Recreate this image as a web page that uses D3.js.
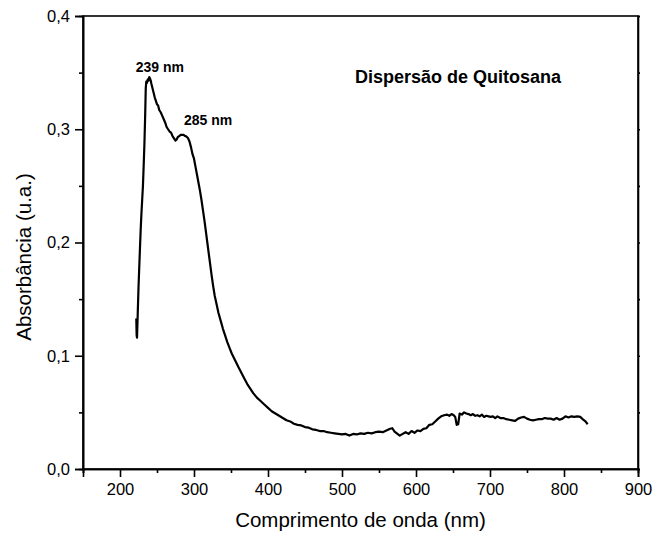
<!DOCTYPE html>
<html>
<head>
<meta charset="utf-8">
<script src="https://cdn.jsdelivr.net/npm/d3@7"></script>
<style>
  html, body { margin: 0; padding: 0; background: #fff; }
  svg { display: block; font-family: "Liberation Sans", Arial, sans-serif; }
</style>
</head>
<body>
<svg id="chart" width="652" height="536"></svg>
<script>
// ---- data ----
const wavelength = [
  222, 222.5, 223, 224, 225, 226, 227, 228, 229, 230, 231, 232, 233, 234, 234.8, 235.5, 236.5, 237.5, 238.5, 239.5,
  240.5, 241.5, 242.5, 244, 245.5, 247, 248.5, 250, 251.5, 253, 255, 257, 259, 261, 263, 265, 267, 269, 271, 273,
  275, 276.5, 278, 280, 282, 284, 286, 288, 290, 292, 294, 296, 298, 300, 302, 304, 306, 308, 310, 312,
  314, 316, 318, 320, 322, 324, 326, 328, 330, 333, 336, 339, 342, 345, 348, 351, 354, 357, 360, 364,
  368, 372, 376, 380, 385, 390, 395, 400, 405, 410, 415, 420, 425, 430, 435, 440, 445, 450, 455, 460,
  465, 470, 475, 480, 485, 490, 495, 500, 505, 510, 515, 520, 525, 530, 535, 540, 545, 550, 555, 560,
  565, 568, 571, 575, 578, 582, 586, 590, 594, 598, 602, 606, 610, 614, 618, 622, 626, 630, 634, 638,
  642, 645, 648, 651, 653, 655, 657, 659, 662, 665, 668, 671, 674, 677, 680, 683, 686, 689, 692, 695,
  698, 701, 704, 707, 710, 714, 718, 722, 726, 730, 734, 738, 742, 746, 750, 754, 758, 762, 766, 770,
  774, 778, 782, 786, 790, 794, 798, 802, 806, 810, 814, 818, 822, 826, 829, 832
];
const absorbance = [
  0.133, 0.118, 0.116, 0.138, 0.160, 0.178, 0.195, 0.212, 0.226, 0.238, 0.250, 0.268, 0.287, 0.312, 0.336, 0.342, 0.341, 0.344, 0.343, 0.346,
  0.345, 0.343, 0.340, 0.336, 0.332, 0.328, 0.325, 0.322, 0.321, 0.317, 0.315, 0.312, 0.309, 0.306, 0.302, 0.300, 0.298, 0.297, 0.294, 0.292,
  0.290, 0.291, 0.293, 0.294, 0.295, 0.295, 0.295, 0.294, 0.2935, 0.292, 0.289, 0.284, 0.278, 0.274, 0.267, 0.260, 0.253, 0.246, 0.238, 0.229,
  0.220, 0.210, 0.200, 0.190, 0.180, 0.170, 0.161, 0.153, 0.147, 0.138, 0.131, 0.124, 0.118, 0.112, 0.107, 0.102, 0.098, 0.094, 0.090, 0.085,
  0.080, 0.075, 0.071, 0.067, 0.063, 0.060, 0.057, 0.054, 0.051, 0.049, 0.047, 0.045, 0.043, 0.042, 0.040, 0.039, 0.0385, 0.037, 0.0365, 0.035,
  0.0345, 0.0335, 0.0335, 0.0325, 0.032, 0.0315, 0.031, 0.0305, 0.031, 0.0295, 0.031, 0.0305, 0.0315, 0.031, 0.032, 0.0315, 0.0325, 0.033, 0.0325, 0.034,
  0.0355, 0.036, 0.033, 0.031, 0.0295, 0.031, 0.0325, 0.031, 0.0335, 0.032, 0.034, 0.0335, 0.0355, 0.036, 0.039, 0.0395, 0.042, 0.0445, 0.0465, 0.0475,
  0.048, 0.047, 0.0485, 0.0475, 0.046, 0.039, 0.0395, 0.049, 0.048, 0.050, 0.049, 0.0485, 0.0475, 0.0485, 0.047, 0.0475, 0.0465, 0.048, 0.046, 0.047,
  0.0465, 0.046, 0.0465, 0.045, 0.0465, 0.045, 0.045, 0.044, 0.0435, 0.043, 0.0425, 0.0445, 0.0455, 0.046, 0.0445, 0.0435, 0.043, 0.0435, 0.044, 0.044,
  0.045, 0.0445, 0.0445, 0.0435, 0.045, 0.0435, 0.0445, 0.0465, 0.0455, 0.0465, 0.046, 0.0465, 0.046, 0.0435, 0.042, 0.0395
];
const xTicks = [200, 300, 400, 500, 600, 700, 800, 900];
const xMinorTicks = [150, 250, 350, 450, 550, 650, 750, 850];
const yTicks = [0.0, 0.1, 0.2, 0.3, 0.4];
const yMinorTicks = [0.05, 0.15, 0.25, 0.35];
const peakLabels = [
  { text: "239 nm", wl: 239, ab: 0.346 },
  { text: "285 nm", wl: 285, ab: 0.295 }
];
const title = "Dispersão de Quitosana";
const xTitle = "Comprimento de onda (nm)";
const yTitle = "Absorbância (u.a.)";

// ---- layout ----
const svg = d3.select("#chart");
const L = 83, R = 638, T = 16, B = 469;
const x = d3.scaleLinear().domain([150, 900]).range([L, R]);
const y = d3.scaleLinear().domain([0, 0.4]).range([B, T]);
const fmt = d => d3.format(".1f")(d).replace(".", ",");

// frame
svg.append("rect").attr("x", L).attr("y", T).attr("width", R - L).attr("height", B - T)
  .attr("fill", "none").attr("stroke", "#000").attr("stroke-width", 1.6);

// bottom axis
svg.append("g").attr("transform", `translate(0,${B})`)
  .call(d3.axisBottom(x).tickValues(xTicks).tickSize(8).tickPadding(6).tickFormat(d3.format("d")));
svg.append("g").attr("transform", `translate(0,${B})`)
  .call(d3.axisBottom(x).tickValues(xMinorTicks).tickSize(4).tickFormat(""));

// left axis
svg.append("g").attr("transform", `translate(${L},0)`)
  .call(d3.axisLeft(y).tickValues(yTicks).tickSize(8).tickPadding(5).tickFormat(fmt));
svg.append("g").attr("transform", `translate(${L},0)`)
  .call(d3.axisLeft(y).tickValues(yMinorTicks).tickSize(4).tickFormat(""));

// right axis (short outward ticks)
svg.append("g").attr("transform", `translate(${R},0)`)
  .call(d3.axisRight(y).tickValues(yTicks.concat(yMinorTicks)).tickSize(2).tickFormat(""));

svg.selectAll(".domain").attr("stroke", "#000").attr("stroke-width", 1.6);
svg.selectAll(".tick line").attr("stroke", "#000").attr("stroke-width", 1.6);
svg.selectAll(".tick text").attr("fill", "#000").style("font-size", "16.5px")
  .style("font-family", "'Liberation Sans', Arial, sans-serif");

// curve
const data = wavelength.map((w, i) => [w, absorbance[i]]);
svg.append("path").datum(data)
  .attr("fill", "none").attr("stroke", "#000").attr("stroke-width", 2.2)
  .attr("stroke-linejoin", "round")
  .attr("d", d3.line().x(d => x(d[0])).y(d => y(d[1])));

// peak labels
svg.append("text").attr("x", x(peakLabels[0].wl) + 11).attr("y", y(peakLabels[0].ab) - 5)
  .attr("text-anchor", "middle").attr("font-weight", "bold").attr("font-size", 14)
  .text(peakLabels[0].text);
svg.append("text").attr("x", x(peakLabels[1].wl) + 1).attr("y", y(peakLabels[1].ab) - 10)
  .attr("text-anchor", "start").attr("font-weight", "bold").attr("font-size", 14)
  .text(peakLabels[1].text);

// inner title
svg.append("text").attr("x", 355).attr("y", 83)
  .attr("font-weight", "bold").attr("font-size", 18).text(title);

// axis titles
svg.append("text").attr("x", (L + R) / 2).attr("y", 527).attr("text-anchor", "middle")
  .attr("font-size", 20.5).text(xTitle);
svg.append("text").attr("transform", `translate(31,257) rotate(-90)`)
  .attr("text-anchor", "middle").attr("font-size", 20.5).text(yTitle);
</script>
</body>
</html>
